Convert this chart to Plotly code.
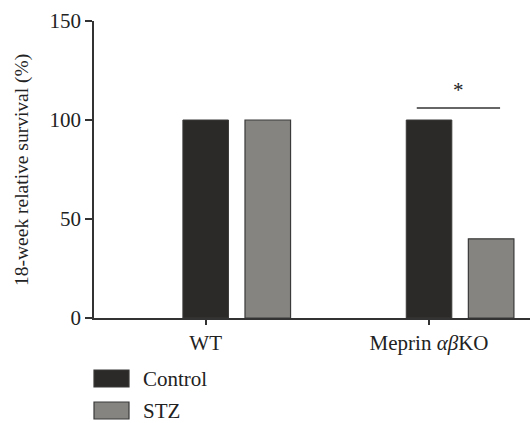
import plotly.graph_objects as go

# ---- data ----
groups = ["WT", "Meprin <i>αβ</i>KO"]
group_pos = [0, 1]
series_names = ["Control", "STZ"]
control_vals = [100, 100]
stz_vals = [100, 40]
sig_y = 106          # significance bar height (value units)
sig_x = [0.945, 1.318]

# ---- styling ----
W, H = 530, 423
ML, MR, MT, MB = 94, 0, 21, 105
PW, PH = W - ML - MR, H - MT - MB
FONT = "Liberation Serif"
C_CTRL = "#2b2a28"
C_STZ = "#858480"
AX = "#333333"
offset = 0.278
bw = 0.204
FS = 21

def px_x(p):
    return (p - ML) / PW

def px_y(p):
    return 1 - (p - MT) / PH

fig = go.Figure()
fig.add_trace(go.Bar(
    x=[g for g in group_pos], y=control_vals, width=bw, name=series_names[0],
    marker=dict(color=C_CTRL, line=dict(color="#3a3938", width=1)),
))
fig.add_trace(go.Bar(
    x=[g + offset for g in group_pos], y=stz_vals, width=bw, name=series_names[1],
    marker=dict(color=C_STZ, line=dict(color="#3a3a3a", width=1.2)),
))

# significance bar
fig.add_shape(type="line", xref="x", yref="y", x0=sig_x[0], x1=sig_x[1],
              y0=sig_y, y1=sig_y, line=dict(color=AX, width=1.5))
fig.add_annotation(xref="x", yref="y", x=(sig_x[0] + sig_x[1]) / 2, y=sig_y + 2,
                   text="*", showarrow=False, yanchor="bottom",
                   font=dict(family=FONT, size=FS, color="#222"))

# y title
fig.add_annotation(xref="paper", yref="paper", x=px_x(22), y=px_y(170),
                   text="18-week relative survival (%)", textangle=-90,
                   showarrow=False, xanchor="center", yanchor="middle",
                   font=dict(family=FONT, size=19.5, color="#222"))

# custom legend
leg = [(series_names[0], C_CTRL, "#3a3938", 370), (series_names[1], C_STZ, "#3a3a3a", 402)]
for name, fill, edge, top in leg:
    fig.add_shape(type="rect", xref="paper", yref="paper",
                  x0=px_x(94), x1=px_x(129), y0=px_y(top), y1=px_y(top + 17),
                  fillcolor=fill, line=dict(color=edge, width=1.2))
    fig.add_annotation(xref="paper", yref="paper", x=px_x(141), y=px_y(top + 8.5),
                       text=name, showarrow=False, xanchor="left", yanchor="middle",
                       font=dict(family=FONT, size=FS, color="#222"))

fig.update_layout(
    width=W, height=H,
    margin=dict(l=ML, r=MR, t=MT, b=MB),
    paper_bgcolor="white", plot_bgcolor="white",
    barmode="overlay", showlegend=False,
    font=dict(family=FONT, size=FS, color="#222"),
    xaxis=dict(range=[-0.5, 1.452], tickvals=group_pos, ticktext=groups,
               showgrid=False, zeroline=False, showline=True, linecolor=AX, linewidth=1.5,
               ticks="outside", ticklen=5, tickcolor=AX, tickwidth=1.5,
               tickfont=dict(family=FONT, size=FS, color="#222")),
    yaxis=dict(range=[0, 150], tickvals=[0, 50, 100, 150],
               showgrid=False, zeroline=False, showline=True, linecolor=AX, linewidth=1.5,
               ticks="outside", ticklen=7, tickcolor=AX, tickwidth=1.5,
               tickfont=dict(family=FONT, size=FS, color="#222")),
)

fig.write_html("out.html", config={"displayModeBar": False},
               post_script="document.body.style.margin='0';document.body.style.overflow='hidden';")
